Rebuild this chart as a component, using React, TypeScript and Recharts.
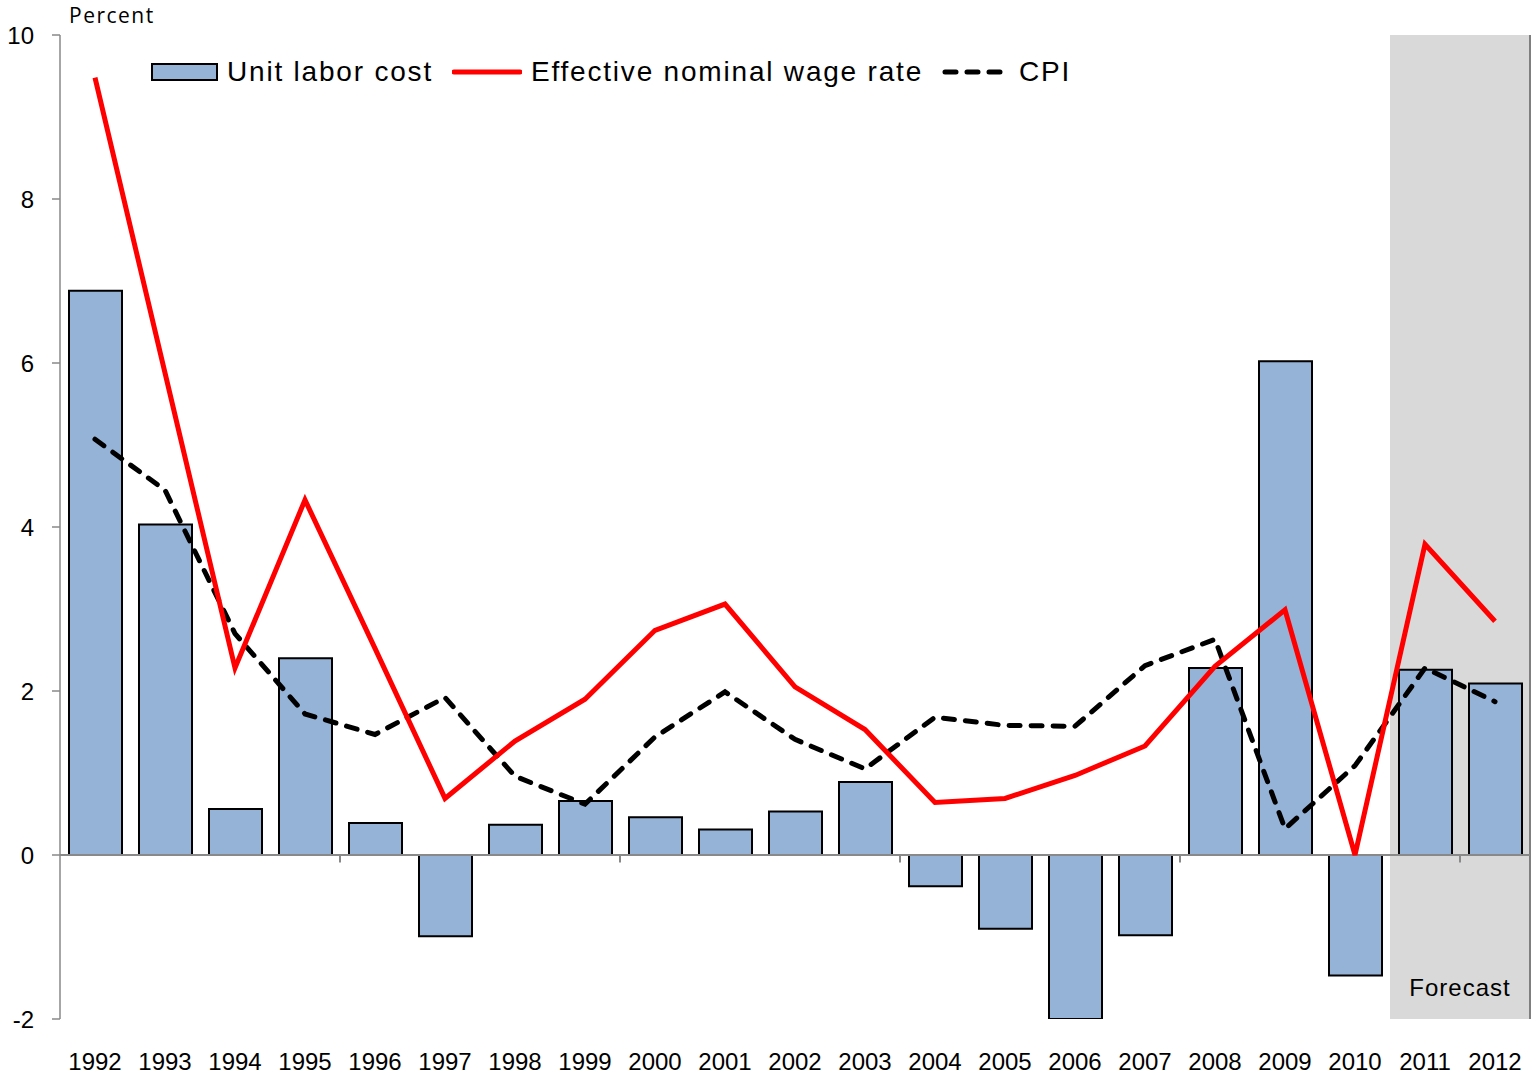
import {
  ComposedChart,
  Bar,
  Line,
  XAxis,
  YAxis,
  ReferenceArea,
  ReferenceLine,
  Legend,
} from "recharts";

const years = [
  "1992", "1993", "1994", "1995", "1996", "1997", "1998", "1999", "2000", "2001", "2002",
  "2003", "2004", "2005", "2006", "2007", "2008", "2009", "2010", "2011", "2012",
];
const unitLaborCost = [
  6.88, 4.03, 0.56, 2.4, 0.39, -0.99, 0.37, 0.66, 0.46, 0.31, 0.53,
  0.89, -0.38, -0.9, -2.0, -0.98, 2.28, 6.02, -1.47, 2.26, 2.09,
];
const wageRate = [
  9.48, 5.88, 2.28, 4.33, 2.52, 0.69, 1.39, 1.9, 2.74, 3.06, 2.05,
  1.53, 0.64, 0.69, 0.97, 1.33, 2.3, 2.99, 0.0, 3.79, 2.85,
];
const cpi = [
  5.07, 4.45, 2.7, 1.72, 1.47, 1.92, 0.96, 0.62, 1.44, 1.99, 1.41,
  1.05, 1.68, 1.58, 1.57, 2.31, 2.63, 0.32, 1.09, 2.28, 1.87,
];
const yTicks = [-2, 0, 2, 4, 6, 8, 10];
// small marks under the zero line, at the left edge of these years
const markYears = ["1996", "2000", "2004", "2008", "2012"];
const forecastStart = "2011";
const forecastEnd = "2012";

const legendItems = [
  { label: "Unit labor cost", kind: "bar" },
  { label: "Effective nominal wage rate", kind: "line" },
  { label: "CPI", kind: "dash" },
];

const data = years.map((year, i) => ({
  year,
  ulc: unitLaborCost[i],
  wage: wageRate[i],
  cpi: cpi[i],
}));

const FONT = '"Liberation Sans", Arial, sans-serif';
const BAR_FILL = "#95b3d7";
const AXIS_GREY = "#898989";

function Swatch({ kind }: { kind: string }) {
  if (kind === "bar") {
    return (
      <svg width={67} height={18}>
        <rect x={1} y={1} width={65} height={16} fill={BAR_FILL} stroke="#000" strokeWidth={2} />
      </svg>
    );
  }
  if (kind === "line") {
    return (
      <svg width={70} height={18}>
        <line x1={2} y1={9} x2={68} y2={9} stroke="#ff0000" strokeWidth={5} strokeLinecap="round" />
      </svg>
    );
  }
  return (
    <svg width={68} height={18}>
      <line
        x1={3}
        y1={9}
        x2={66}
        y2={9}
        stroke="#000"
        strokeWidth={5}
        strokeDasharray="11 11"
        strokeLinecap="round"
      />
    </svg>
  );
}

function LegendBox() {
  return (
    <div style={{ display: "flex", alignItems: "center", fontFamily: FONT }}>
      {legendItems.map((item) => (
        <div key={item.label} style={{ display: "flex", alignItems: "center", marginRight: 19 }}>
          <Swatch kind={item.kind} />
          <span
            style={{
              fontSize: 28,
              letterSpacing: 1.8,
              lineHeight: "32px",
              marginLeft: 9,
              color: "#000",
              whiteSpace: "nowrap",
            }}
          >
            {item.label}
          </span>
        </div>
      ))}
    </div>
  );
}

export default function App() {
  return (
    <div
      style={{
        position: "absolute",
        left: 0,
        top: 0,
        width: 1540,
        height: 1074,
        background: "#fff",
      }}
    >
      <div
        style={{
          position: "absolute",
          left: 69,
          top: 1,
          fontFamily: '"Open Sans", sans-serif',
          fontSize: 21,
          letterSpacing: 1.5,
          color: "#000",
        }}
      >
        Percent
      </div>
      <ComposedChart
        width={1540}
        height={1074}
        data={data}
        margin={{ top: 35, right: 10, bottom: 0, left: 0 }}
      >
        <ReferenceArea
          x1={forecastStart}
          x2={forecastEnd}
          y1={-2}
          y2={10}
          fill="#d9d9d9"
          fillOpacity={1}
          stroke="none"
          label={{
            value: "Forecast",
            position: "insideBottom",
            offset: 23,
            fontSize: 24,
            fill: "#000",
            fontFamily: FONT,
            letterSpacing: 1,
          }}
        />
        <ReferenceLine x={forecastEnd} position="end" stroke="#7f7f7f" strokeWidth={2} />
        <ReferenceLine y={0} stroke={AXIS_GREY} strokeWidth={2} />
        {markYears.map((yr) => (
          <ReferenceLine
            key={yr}
            segment={[
              { x: yr, y: 0 },
              { x: yr, y: -0.09 },
            ]}
            position="start"
            stroke={AXIS_GREY}
            strokeWidth={2}
          />
        ))}
        <XAxis
          dataKey="year"
          interval={0}
          axisLine={false}
          tickLine={false}
          tickSize={0}
          tickMargin={34}
          height={55}
          tick={{ fontSize: 24, fill: "#000", fontFamily: FONT }}
        />
        <YAxis
          domain={[-2, 10]}
          ticks={yTicks}
          allowDataOverflow
          width={60}
          axisLine={{ stroke: AXIS_GREY, strokeWidth: 1.5 }}
          tickLine={{ stroke: AXIS_GREY, strokeWidth: 1.5 }}
          tickSize={8}
          tickMargin={18}
          tick={{ fontSize: 24, fill: "#000", fontFamily: FONT }}
        />
        <Bar
          dataKey="ulc"
          name="Unit labor cost"
          fill={BAR_FILL}
          stroke="#000"
          strokeWidth={2}
          barSize={53}
          isAnimationActive={false}
        />
        <Line
          dataKey="cpi"
          name="CPI"
          type="linear"
          stroke="#000"
          strokeWidth={5}
          strokeDasharray="11 11"
          strokeLinecap="round"
          dot={false}
          activeDot={false}
          isAnimationActive={false}
        />
        <Line
          dataKey="wage"
          name="Effective nominal wage rate"
          type="linear"
          stroke="#ff0000"
          strokeWidth={5}
          dot={false}
          activeDot={false}
          isAnimationActive={false}
        />
        <Legend
          layout="horizontal"
          verticalAlign="middle"
          align="center"
          content={() => <LegendBox />}
          wrapperStyle={{ top: 56, left: 151, width: "auto", height: "auto" }}
        />
      </ComposedChart>
    </div>
  );
}
